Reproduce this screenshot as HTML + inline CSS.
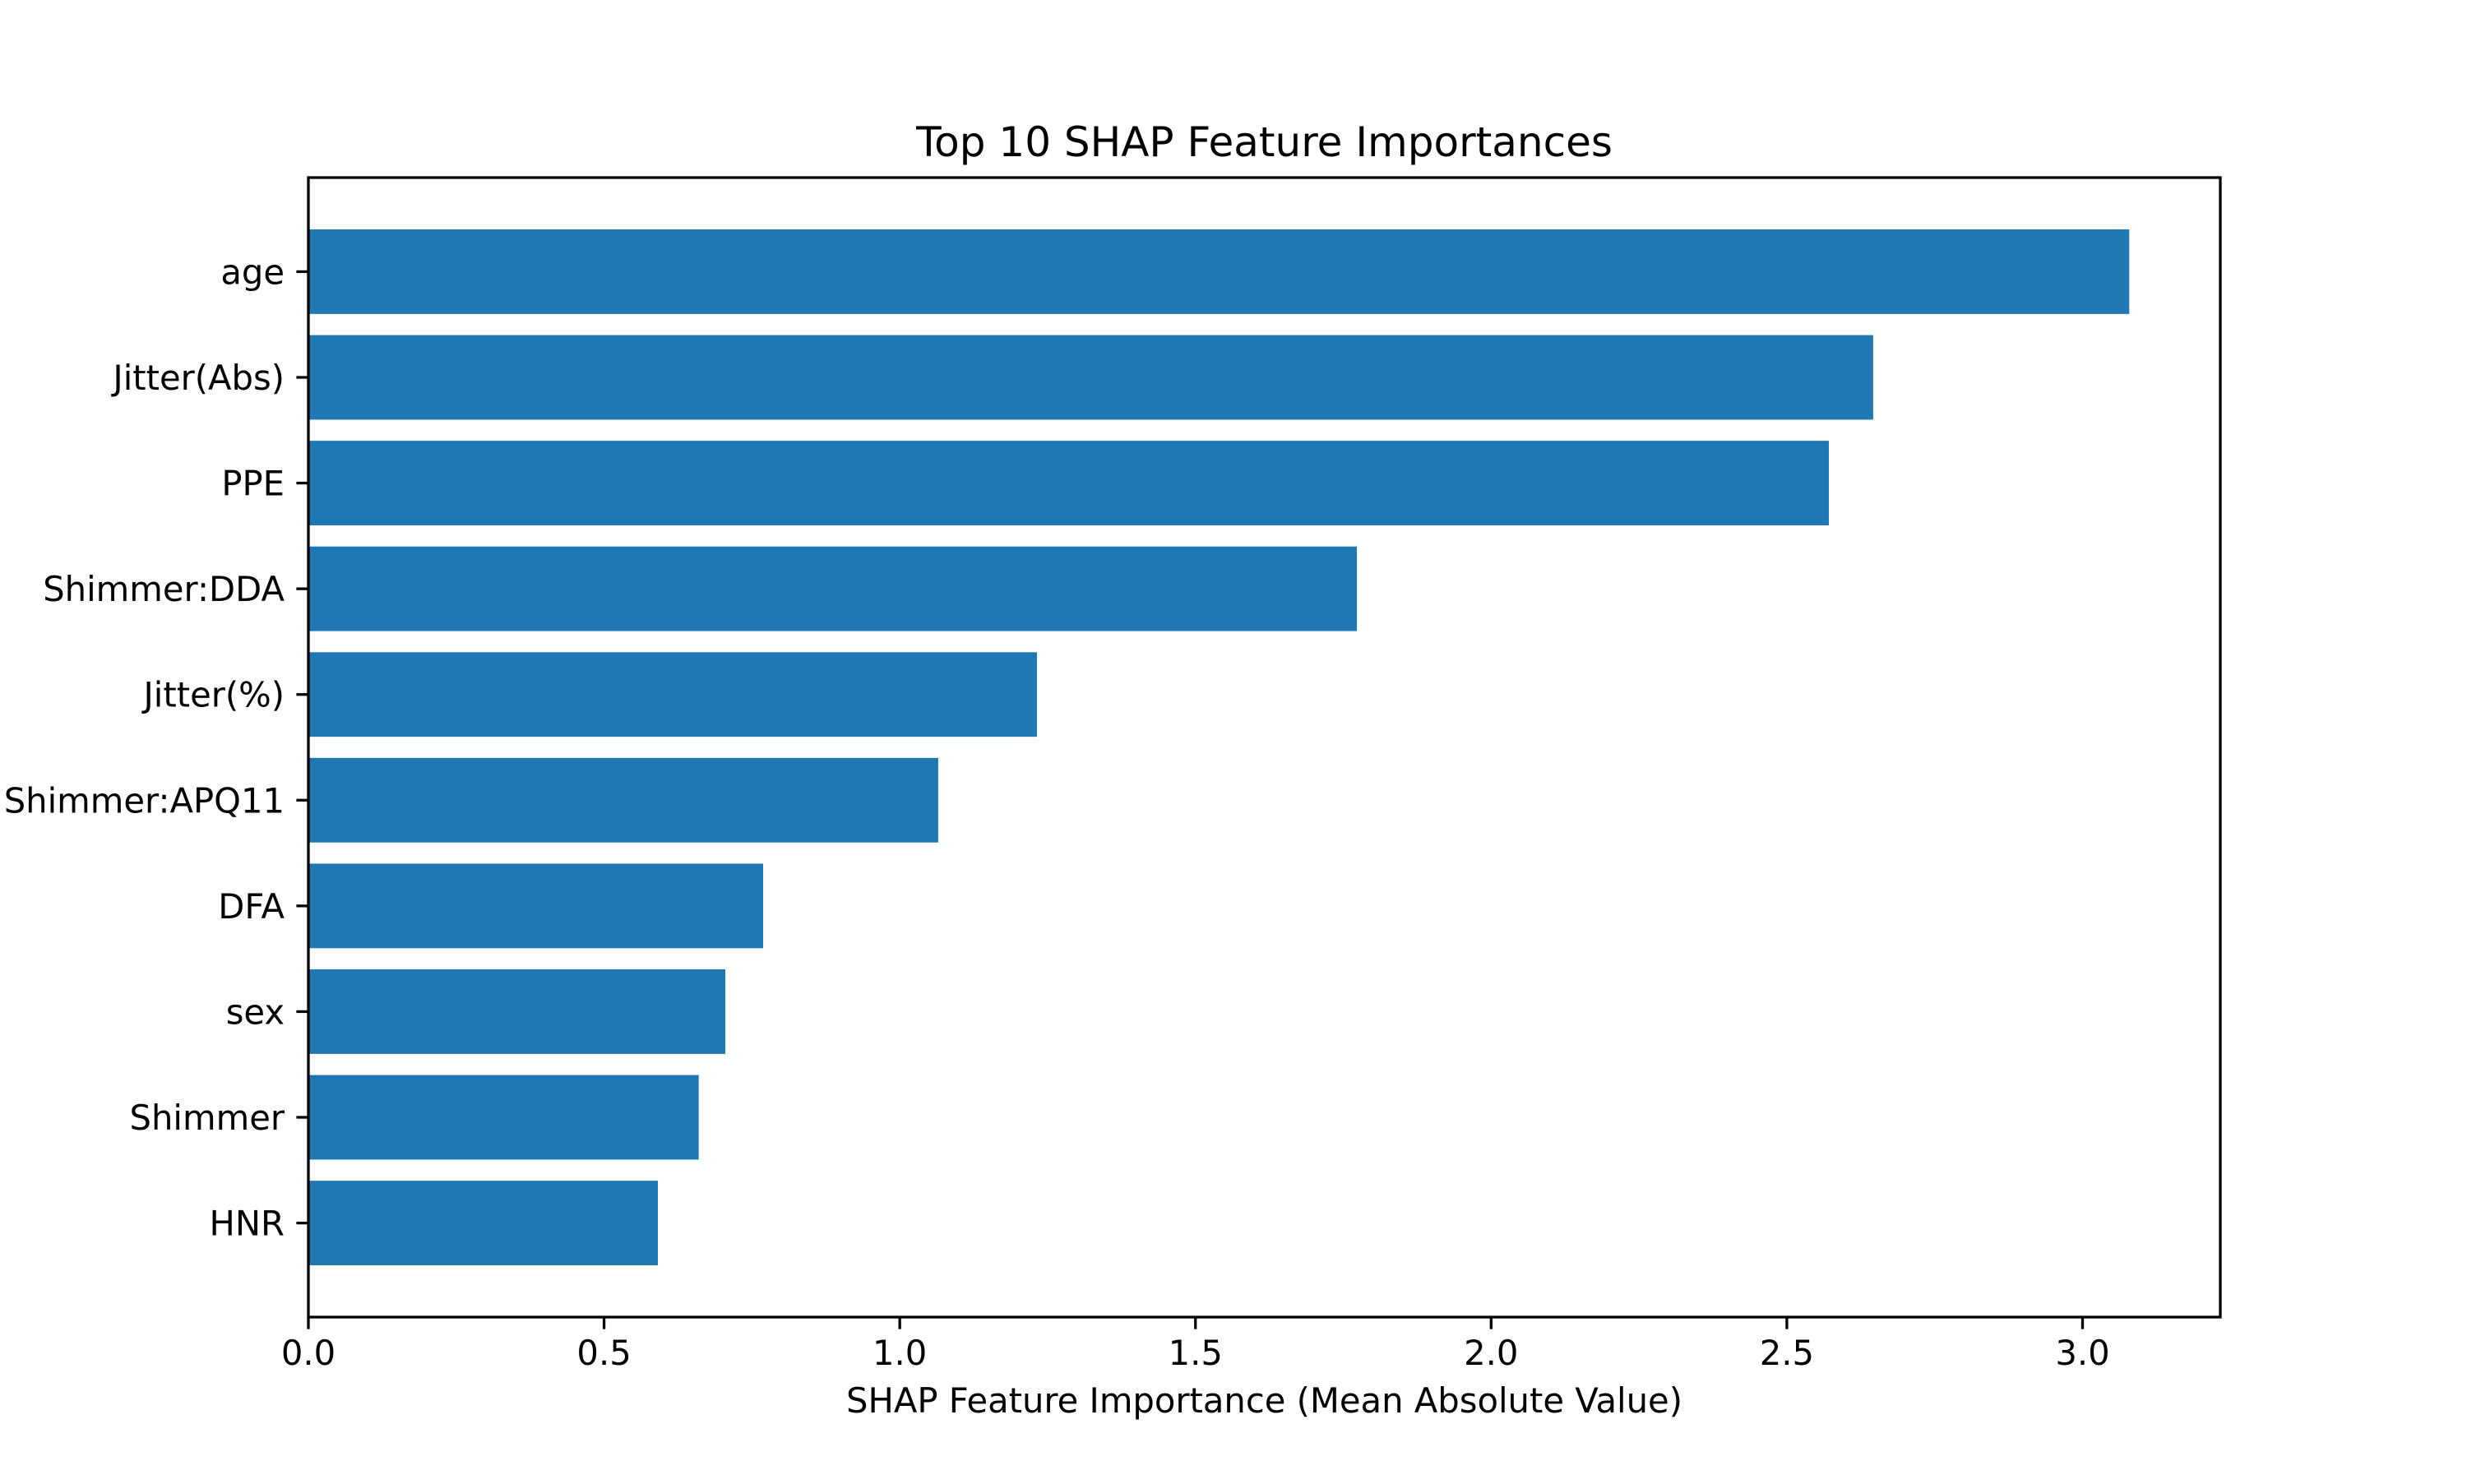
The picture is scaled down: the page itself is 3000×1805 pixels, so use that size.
<!DOCTYPE html>
<html><head><meta charset="utf-8"><style>
html,body{margin:0;padding:0;background:#fff;}
svg text{font-family:"DejaVu Sans","Liberation Sans",sans-serif;fill:#000;}
</style></head><body>
<svg id="chart" width="3000" height="1800" xmlns="http://www.w3.org/2000/svg">
<rect width="3000" height="1800" fill="#fff"/>
<g id="plot"></g>
</svg>
<script>
const categories = ["age","Jitter(Abs)","PPE","Shimmer:DDA","Jitter(%)","Shimmer:APQ11","DFA","sex","Shimmer","HNR"];
const values = [3.079,2.646,2.571,1.773,1.232,1.065,0.769,0.705,0.660,0.591];
const xTicks = [0,0.5,1.0,1.5,2.0,2.5,3.0];
const xTickLabels = ["0.0","0.5","1.0","1.5","2.0","2.5","3.0"];

const NS="http://www.w3.org/2000/svg";
const L=375,R=2700,T=216,B=1602;
const xmax=Math.max(...values)*1.05;
const n=categories.length;
const ylo=-0.4-0.49, yhi=(n-1)+0.4+0.49;
function x(v){return L+(v/xmax)*(R-L);}
// index 0 at top
function y(i){const pos=(n-1-i);return B-(pos-ylo)/(yhi-ylo)*(B-T);}
const g=document.getElementById('plot');
function mk(tag,attrs){const e=document.createElementNS(NS,tag);for(const k in attrs)e.setAttribute(k,attrs[k]);g.appendChild(e);return e;}
const bh=0.8/(yhi-ylo)*(B-T);
categories.forEach((c,i)=>{
  const r=mk('rect',{x:x(0),y:y(i)-bh/2,width:x(values[i])-x(0),height:bh,fill:'#1f77b4'});
  
  
  const t=mk('line',{x1:L,x2:L-14.6,y1:y(i),y2:y(i),stroke:'#000','stroke-width':3.3});
  
  
  const lb=mk('text',{x:L-29,y:y(i)+15,'text-anchor':'end','font-size':41.7});
  lb.textContent=c;
  
  
});
xTicks.forEach((v,i)=>{
  const t=mk('line',{x1:x(v),x2:x(v),y1:B,y2:B+14.6,stroke:'#000','stroke-width':3.3});
  
  
  const lb=mk('text',{x:x(v),y:B+58,'text-anchor':'middle','font-size':41.7});
  lb.textContent=xTickLabels[i];
  
  
});
const fr=mk('rect',{x:L,y:T,width:R-L,height:B-T,fill:'none',stroke:'#000','stroke-width':3.3});


const ti=mk('text',{x:(L+R)/2,y:190,'text-anchor':'middle','font-size':50});
ti.textContent='Top 10 SHAP Feature Importances';


const xl=mk('text',{x:(L+R)/2,y:1718,'text-anchor':'middle','font-size':41.7});
xl.textContent='SHAP Feature Importance (Mean Absolute Value)';


</script>
</body></html>
